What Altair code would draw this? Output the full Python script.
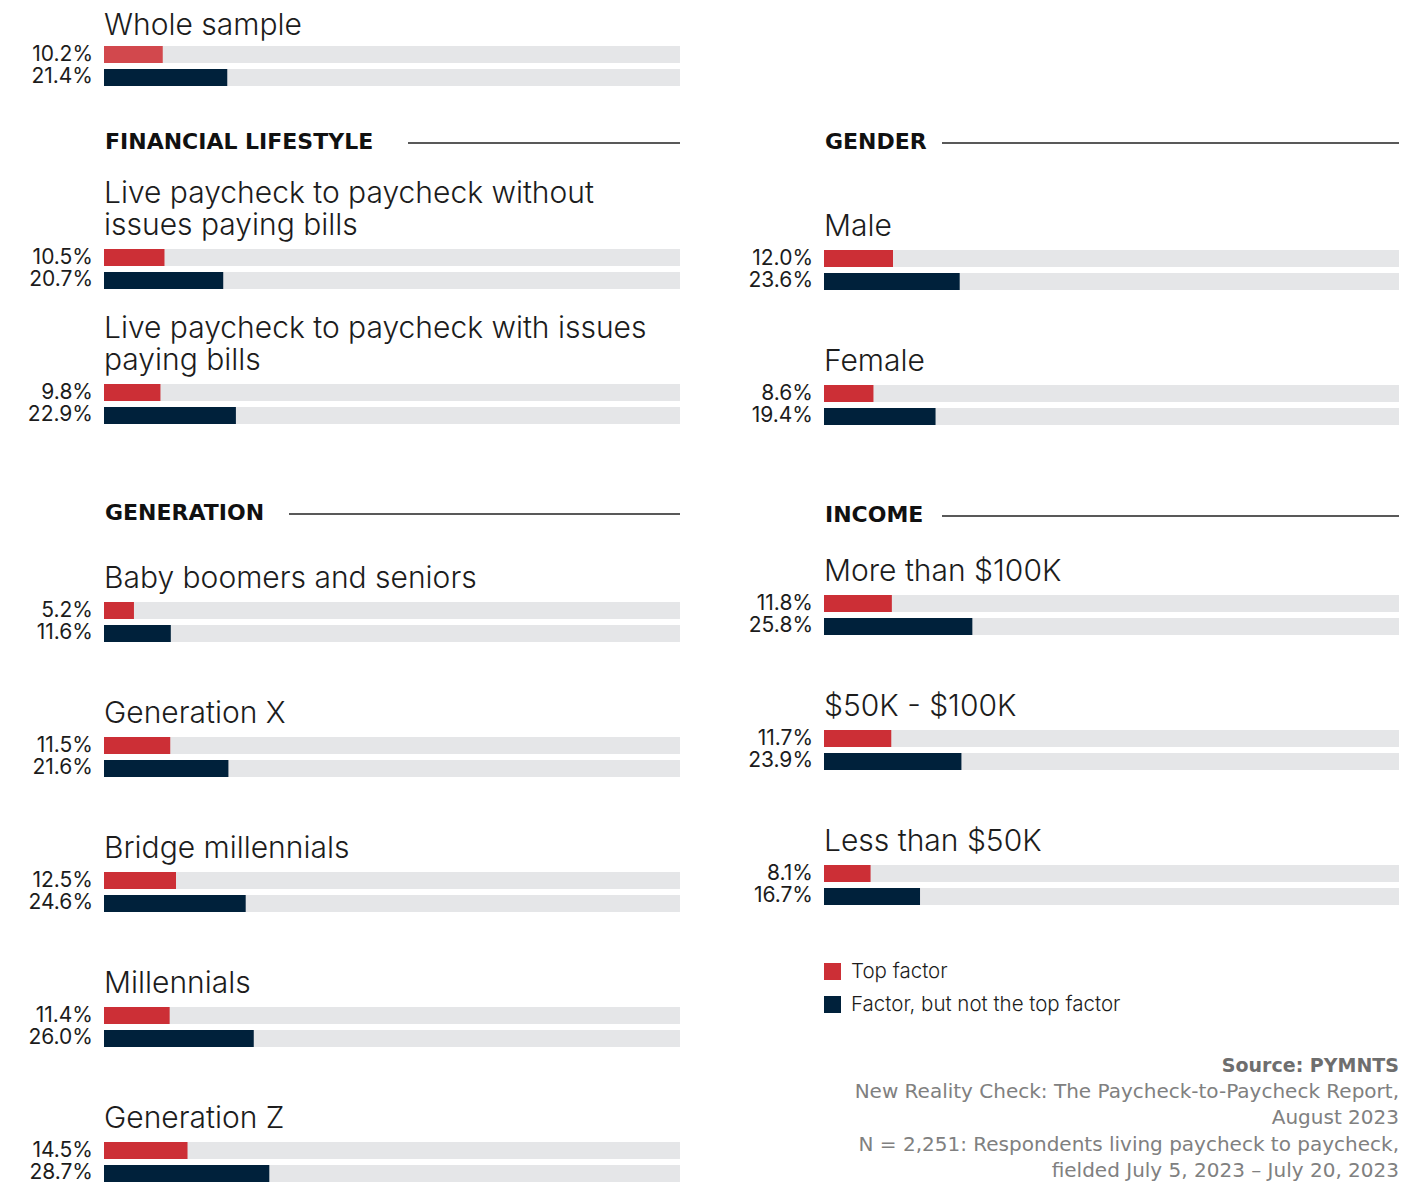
import altair as alt
import pandas as pd

# ---------------- data ----------------
SERIES = ["Top factor", "Factor, but not the top factor"]

whole_title = "Whole sample"
whole_top, whole_fac = 10.2, 21.4

fin_titles = [["Live paycheck to paycheck without", "issues paying bills"],
              ["Live paycheck to paycheck with issues", "paying bills"]]
fin_top = [10.5, 9.8]
fin_fac = [20.7, 22.9]

gen_titles = ["Baby boomers and seniors", "Generation X", "Bridge millennials",
              "Millennials", "Generation Z"]
gen_top = [5.2, 11.5, 12.5, 11.4, 14.5]
gen_fac = [11.6, 21.6, 24.6, 26.0, 28.7]

gender_titles = ["Male", "Female"]
gender_top = [12.0, 8.6]
gender_fac = [23.6, 19.4]

income_titles = ["More than $100K", "$50K - $100K", "Less than $50K"]
income_top = [11.8, 11.7, 8.1]
income_fac = [25.8, 23.9, 16.7]

section_names = ["FINANCIAL LIFESTYLE", "GENERATION", "GENDER", "INCOME"]

source_title = "Source: PYMNTS"
source_lines = ["New Reality Check: The Paycheck-to-Paycheck Report,",
                "August 2023",
                "N = 2,251: Respondents living paycheck to paycheck,",
                "fielded July 5, 2023 \u2013 July 20, 2023"]

# ---------------- style ----------------
RED = "#cc2f36"
RED_LIGHT = "#d2484d"
NAVY = "#00213b"
TRACK = "#e5e6e8"
FONT = "Inter"
TXT = "#1c1c1c"
LW = 576   # left panel width
RW = 575   # right panel width
PH = 40    # panel (bars) height
SP = 22    # vertical spacing
TOFF = 6   # title offset
NOVIEW = alt.ViewBackground(stroke="transparent", strokeWidth=0)


def panel(title, top, fac, width, red=RED, pad=True, toff=TOFF):
    if isinstance(title, list):
        lines = title
    else:
        lines = ["", title] if pad else [title]
    df = pd.DataFrame({"series": SERIES, "value": [top, fac], "full": [100, 100]})
    df["label"] = [f"{v:.1f}%" for v in df["value"]]
    ysc = alt.Scale(type="band", domain=SERIES, paddingInner=0.26, paddingOuter=0)
    y = alt.Y("series:N", sort=SERIES, axis=None, scale=ysc)
    xs = alt.Scale(domain=[0, 100], nice=False, zero=True)
    base = alt.Chart(df)
    track = base.mark_bar(color=TRACK).encode(
        x=alt.X("full:Q", scale=xs, axis=None), y=y)
    bars = base.mark_bar().encode(
        x=alt.X("value:Q", scale=xs, axis=None), y=y,
        color=alt.Color("series:N", scale=alt.Scale(domain=SERIES, range=[red, NAVY]),
                        legend=None))
    labels = base.mark_text(align="right", baseline="middle", dx=-11, fontSize=21,
                            font=FONT, fontWeight=400, color=TXT).encode(
        x=alt.value(0), y=y, text="label:N")
    return alt.layer(track, bars, labels).properties(
        width=width, height=PH, view=NOVIEW,
        title=alt.TitleParams(lines, anchor="start", frame="group", fontSize=30,
                              font=FONT, fontWeight=300, color=TXT, lineHeight=32,
                              offset=toff)
    )


def header(name, width, height, ty, rule_start):
    df = pd.DataFrame({"name": [name]})
    t = alt.Chart(df).mark_text(align="left", baseline="middle", fontSize=22,
                                fontWeight="bold", font="DejaVu Sans",
                                color="#111111").encode(
        x=alt.value(1), y=alt.value(ty), text="name:N")
    r = alt.Chart(df).mark_rule(color="#222222", strokeWidth=1.3).encode(
        x=alt.value(rule_start), x2=alt.value(width), y=alt.value(ty + 1))
    return alt.layer(t, r).properties(width=width, height=height, view=NOVIEW)


def legend_panel(width, height):
    df = pd.DataFrame({"series": SERIES})
    ysc = alt.Scale(type="band", domain=SERIES, paddingInner=0, paddingOuter=0.394,
                    align=1)
    y = alt.Y("series:N", sort=SERIES, axis=None, scale=ysc)
    sq = alt.Chart(df).mark_square(size=289, opacity=1).encode(
        x=alt.value(8.5), y=y,
        color=alt.Color("series:N", scale=alt.Scale(domain=SERIES, range=[RED, NAVY]),
                        legend=None))
    tx = alt.Chart(df).mark_text(align="left", baseline="middle", fontSize=20.5,
                                 font=FONT, fontWeight=300, color=TXT).encode(
        x=alt.value(27), y=y, text="series:N")
    return alt.layer(sq, tx).properties(
        width=width, height=height, view=NOVIEW,
        title=alt.TitleParams(source_title, subtitle=source_lines, orient="bottom",
                              anchor="end", frame="group", fontSize=19,
                              font="DejaVu Sans", fontWeight="bold", color="#6e6e6e",
                              subtitleFont="DejaVu Sans", subtitleFontSize=20,
                              subtitleColor="#808080", subtitleLineHeight=26.3,
                              subtitlePadding=6, offset=36)
    )


left = alt.vconcat(
    panel(whole_title, whole_top, whole_fac, LW, red=RED_LIGHT, pad=False, toff=3),
    header(section_names[0], LW, 46, 32, 304),
    *[panel(t, a, b, LW) for t, a, b in zip(fin_titles, fin_top, fin_fac)],
    header(section_names[1], LW, 93, 65, 185),
    panel(gen_titles[0], gen_top[0], gen_fac[0], LW, pad=False),
    *[panel(t, a, b, LW) for t, a, b in zip(gen_titles[1:], gen_top[1:], gen_fac[1:])],
    spacing=SP,
).resolve_scale(color="independent")

right = alt.vconcat(
    header(section_names[2], RW, 143, 96, 118),
    panel(gender_titles[0], gender_top[0], gender_fac[0], RW, pad=False),
    panel(gender_titles[1], gender_top[1], gender_fac[1], RW),
    header(section_names[3], RW, 85, 66, 118),
    panel(income_titles[0], income_top[0], income_fac[0], RW, pad=False),
    *[panel(t, a, b, RW) for t, a, b in zip(income_titles[1:], income_top[1:], income_fac[1:])],
    legend_panel(RW, 92),
    spacing=SP,
).resolve_scale(color="independent")

chart = alt.hconcat(left, right, spacing=67).resolve_scale(color="independent").properties(
    padding={"left": 19, "top": 2, "right": 5, "bottom": 0},
    background="white",
).configure_view(stroke="transparent", strokeWidth=0)

chart.save("out.html", embed_options={"renderer": "svg", "actions": False})
